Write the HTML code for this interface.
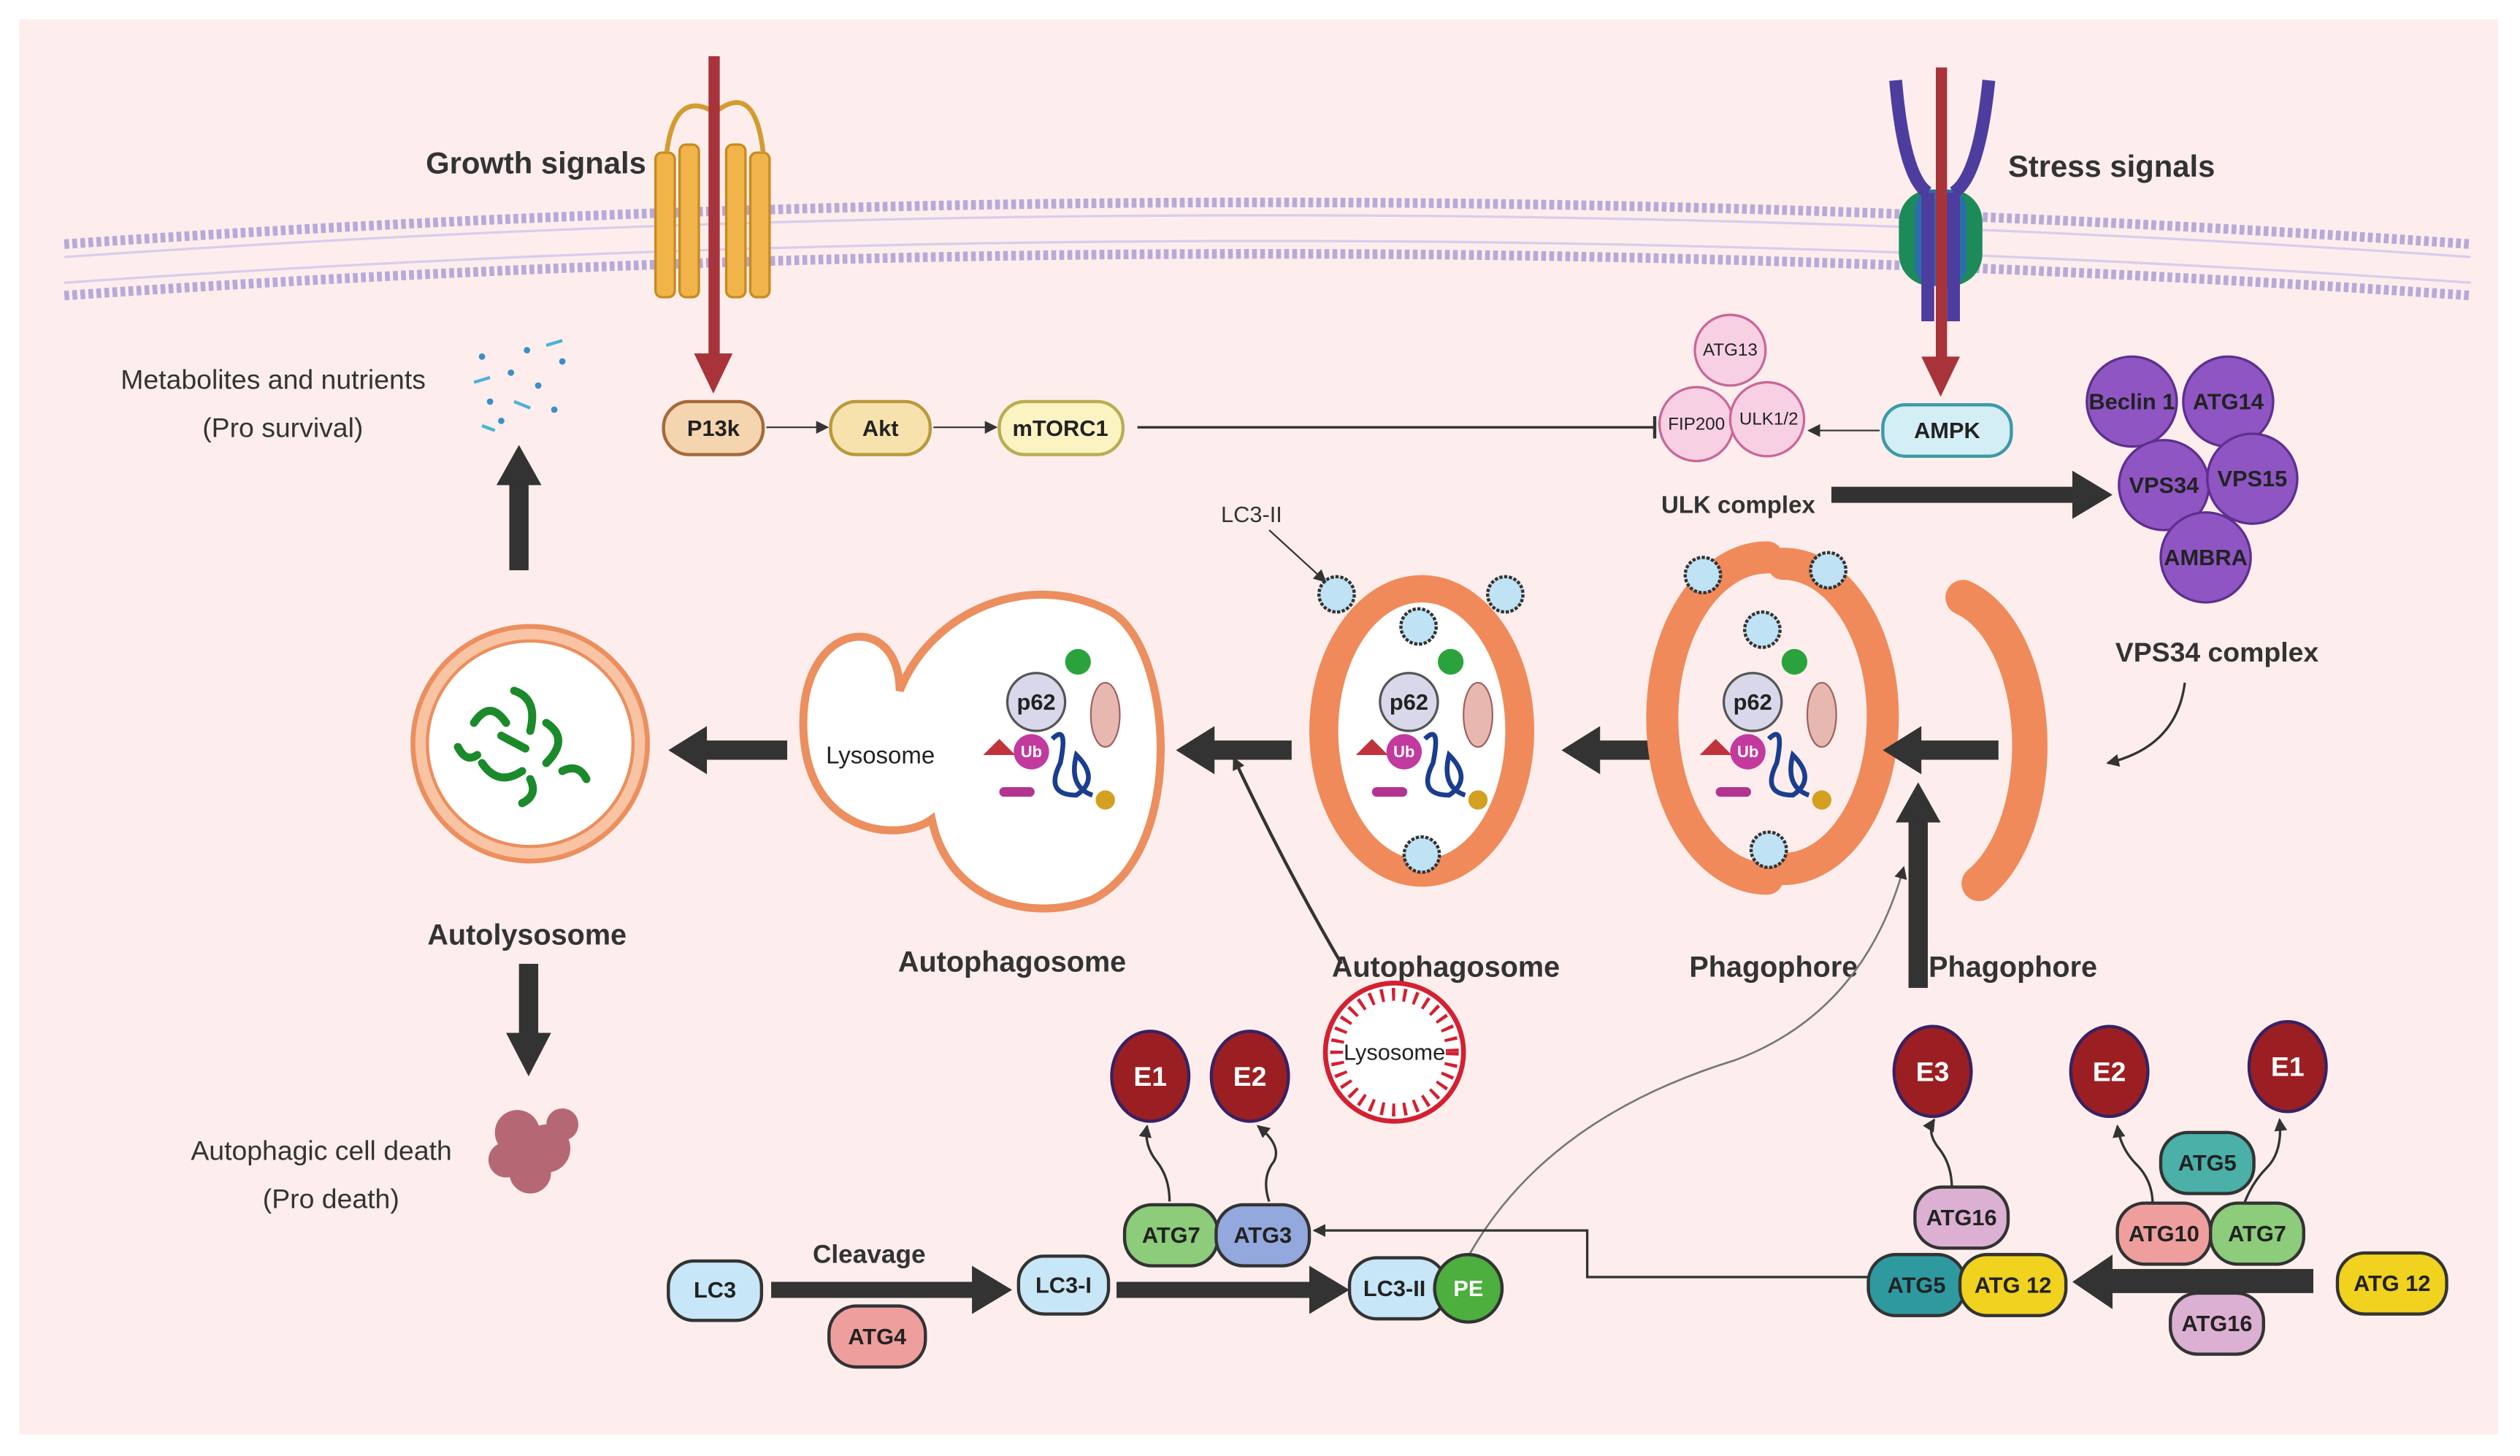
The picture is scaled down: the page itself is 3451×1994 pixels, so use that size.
<!DOCTYPE html>
<html><head><meta charset="utf-8"><style>
html,body{margin:0;padding:0;background:#fff}
svg{display:block}
text{font-family:"Liberation Sans",sans-serif;font-weight:bold;fill:#222}
.n{font-size:14px;text-anchor:middle;dominant-baseline:central;font-weight:bold}
.l{font-size:19px;font-weight:bold;fill:#333}
.m{font-size:17px;font-weight:normal;fill:#333}
</style></head><body>
<svg width="3451" height="1994" viewBox="0 0 1568.6 906.4" xmlns="http://www.w3.org/2000/svg">
<defs>
<marker id="ah" markerWidth="8" markerHeight="8" refX="7" refY="4" orient="auto" markerUnits="userSpaceOnUse"><path d="M0,0 L8,4 L0,8 z" fill="#333"/></marker>
<marker id="tb" markerWidth="4" markerHeight="14" refX="2" refY="7" orient="auto" markerUnits="userSpaceOnUse"><rect x="1" y="0" width="2" height="14" fill="#333"/></marker>
</defs>
<rect x="0" y="0" width="1568.6" height="906.4" fill="#fff"/>
<rect x="12" y="12" width="1543" height="881" fill="#fdeeed"/>
<g fill="none" stroke="#b9a9d9" stroke-width="6" stroke-dasharray="3 2">
<path d="M40,152 Q790,100 1538,152"/>
<path d="M40,184 Q790,132 1538,184"/>
</g>
<g fill="none" stroke="#d9cdec" stroke-width="1.5">
<path d="M40,160 Q790,108 1538,160"/><path d="M40,176 Q790,124 1538,176"/>
</g>
<g fill="#f0b44a" stroke="#c98a20" stroke-width="1.5">
<rect x="408" y="95" width="12" height="90" rx="4"/><rect x="423" y="90" width="12" height="95" rx="4"/>
<rect x="452" y="90" width="12" height="95" rx="4"/><rect x="467" y="95" width="12" height="90" rx="4"/>
<path d="M415,95 Q420,55 445,70 Q470,50 475,95" fill="none" stroke="#d39b30" stroke-width="3"/>
</g>
<rect x="441" y="35" width="7" height="190" fill="#a8333a"/>
<path d="M432,220 L444,245 L456,220 z" fill="#a8333a"/>
<rect x="1182" y="118" width="52" height="60" rx="20" fill="#1d8a5a"/>
<rect x="1192" y="118" width="32" height="60" rx="12" fill="#2a6fa8"/>
<path d="M1180,50 Q1185,110 1200,120 M1238,50 Q1232,110 1216,120" stroke="#4d3d9e" stroke-width="8" fill="none"/>
<path d="M1200,120 L1200,200 M1216,120 L1216,200" stroke="#4d3d9e" stroke-width="8"/>
<rect x="1205" y="42" width="7" height="185" fill="#a8333a"/>
<path d="M1196,222 L1208,247 L1220,222 z" fill="#a8333a"/>
<text x="265" y="108" class="l">Growth signals</text>
<text x="1250" y="110" class="l">Stress signals</text>
<rect x="413" y="250" width="62" height="33" rx="16" fill="#f5d4b0" stroke="#a56a3a" stroke-width="2"/><text x="444" y="266.5" class="n">P13k</text>
<rect x="517" y="250" width="62" height="33" rx="16" fill="#f7e2ad" stroke="#b89a3a" stroke-width="2"/><text x="548" y="266.5" class="n">Akt</text>
<rect x="622" y="250" width="77" height="33" rx="16" fill="#fbf3c2" stroke="#b9ad52" stroke-width="2"/><text x="660" y="266.5" class="n">mTORC1</text>
<line x1="477" y1="266" x2="515" y2="266" stroke="#333" marker-end="url(#ah)"/>
<line x1="581" y1="266" x2="620" y2="266" stroke="#333" marker-end="url(#ah)"/>
<line x1="708" y1="266" x2="1030" y2="266" stroke="#333" stroke-width="1.5" marker-end="url(#tb)"/>
<g fill="#f8d0e3" stroke="#c9679a" stroke-width="1.5">
<circle cx="1077" cy="218" r="22"/><circle cx="1056" cy="264" r="23"/><circle cx="1100" cy="261" r="23"/>
</g>
<text x="1077" y="218" class="n" style="font-size:11px;font-weight:normal">ATG13</text>
<text x="1056" y="264" class="n" style="font-size:11px;font-weight:normal">FIP200</text>
<text x="1101" y="261" class="n" style="font-size:11px;font-weight:normal">ULK1/2</text>
<text x="1082" y="314" class="n" style="font-size:15px;fill:#333">ULK complex</text>
<rect x="1172" y="252" width="80" height="32" rx="14" fill="#d4eef5" stroke="#3b9aa8" stroke-width="2"/><text x="1212" y="268" class="n">AMPK</text>
<line x1="1170" y1="268" x2="1126" y2="268" stroke="#333" marker-end="url(#ah)"/>
<path d="M1140,303 L1290,303 L1290,293 L1315,308 L1290,323 L1290,313 L1140,313 z" fill="#333"/>
<g fill="#8e55c3" stroke="#5e2f8e" stroke-width="1.5">
<circle cx="1327" cy="250" r="28"/><circle cx="1387" cy="250" r="28"/><circle cx="1347" cy="302" r="28"/><circle cx="1402" cy="298" r="28"/><circle cx="1373" cy="347" r="28"/>
</g>
<g style="fill:#222"><text x="1327" y="250" class="n">Beclin 1</text><text x="1387" y="250" class="n">ATG14</text><text x="1347" y="302" class="n">VPS34</text><text x="1402" y="298" class="n">VPS15</text><text x="1373" y="347" class="n">AMBRA</text></g>
<text x="1380" y="406" class="n" style="font-size:17px;fill:#333">VPS34 complex</text>
<path d="M1360,425 Q1355,465 1312,475" fill="none" stroke="#333" stroke-width="1.5" marker-end="url(#ah)"/>
<text x="170" y="242" class="m" text-anchor="middle">Metabolites and nutrients</text>
<text x="176" y="272" class="m" text-anchor="middle">(Pro survival)</text>
<g fill="#3b8fc7"><circle cx="300" cy="222" r="2"/><circle cx="318" cy="232" r="2"/><circle cx="335" cy="240" r="2"/><circle cx="305" cy="250" r="2"/><circle cx="328" cy="218" r="2"/><circle cx="345" cy="255" r="2"/><circle cx="312" cy="262" r="2"/><circle cx="350" cy="225" r="2"/></g>
<g stroke="#4ab3d8" stroke-width="2"><line x1="295" y1="238" x2="305" y2="235"/><line x1="340" y1="215" x2="350" y2="212"/><line x1="320" y1="250" x2="330" y2="254"/><line x1="300" y1="265" x2="308" y2="268"/></g>
<rect x="317" y="300" width="12" height="55" fill="#333"/><path d="M309,302 L323,277 L337,302 z" fill="#333"/>
<circle cx="330" cy="463" r="73" fill="#f9c4a3" stroke="#ec8e5e" stroke-width="3"/>
<circle cx="330" cy="463" r="64" fill="#fff" stroke="#ec8e5e" stroke-width="2"/>
<g stroke="#1b8a2a" stroke-width="5" fill="none" stroke-linecap="round">
<path d="M295,450 q10,-15 20,0"/><path d="M320,430 q15,5 10,25"/><path d="M340,450 q15,10 0,25"/><path d="M300,475 q10,15 25,5"/><path d="M350,480 q10,-5 15,5"/><path d="M312,458 l15,8"/><path d="M285,465 q5,10 12,5"/><path d="M330,485 q5,10 -5,15"/>
</g>
<text x="328" y="582" class="n" style="font-size:18px;fill:#333">Autolysosome</text>
<path d="M416,467 L440,452 L440,461 L490,461 L490,473 L440,473 L440,482 z" fill="#333"/>
<rect x="323" y="600" width="12" height="45" fill="#333"/><path d="M315,643 L329,670 L343,643 z" fill="#333"/>
<g fill="#b56873"><circle cx="322" cy="705" r="14"/><circle cx="340" cy="715" r="15"/><circle cx="330" cy="730" r="13"/><circle cx="315" cy="722" r="11"/><circle cx="350" cy="700" r="10"/></g>
<text x="200" y="722" class="m" text-anchor="middle">Autophagic cell death</text>
<text x="206" y="752" class="m" text-anchor="middle">(Pro death)</text>
<path d="M560,430 C560,380 500,385 500,450 C500,520 560,525 580,510 C590,560 640,575 680,560 C740,530 730,400 690,380 C640,355 580,380 560,430 z" fill="#fff" stroke="#ec8e5e" stroke-width="5"/>
<text x="548" y="470" class="n" style="font-size:15px;font-weight:normal">Lysosome</text>
<g id="cargo">
<circle cx="645" cy="437" r="18" fill="#d8d8ea" stroke="#555" stroke-width="1.5"/><text x="645" y="437" class="n" style="font-size:14px">p62</text>
<circle cx="642" cy="468" r="11" fill="#c23a9d"/><text x="642" y="468" class="n" style="font-size:10px;fill:#fff">Ub</text>
<circle cx="671" cy="412" r="8" fill="#2aa33c"/>
<ellipse cx="688" cy="445" rx="9" ry="20" fill="#e6b8b0" stroke="#a06060"/>
<path d="M612,470 l10,-10 l10,10 z" fill="#c0333c"/>
<rect x="622" y="490" width="22" height="6" rx="3" fill="#b33490"/>
<path d="M655,460 q10,-10 5,15 q-10,20 10,20 q15,-10 0,-25 q-5,20 10,25" fill="none" stroke="#1a3d8f" stroke-width="3"/>
<circle cx="688" cy="498" r="6" fill="#d4a020"/>
</g>
<text x="630" y="599" class="n" style="font-size:18px;fill:#333">Autophagosome</text>
<path d="M732,467 L756,452 L756,461 L804,461 L804,473 L756,473 L756,482 z" fill="#333"/>
<ellipse cx="885" cy="455" rx="70" ry="97" fill="#f08a5a"/>
<ellipse cx="885" cy="455" rx="52" ry="80" fill="#fff"/>
<use href="#cargo" transform="translate(232,0)"/>
<g fill="#bfe3f5" stroke="#333" stroke-width="2" stroke-dasharray="2 1">
<circle cx="832" cy="370" r="11"/><circle cx="937" cy="370" r="11"/><circle cx="883" cy="390" r="11"/><circle cx="885" cy="532" r="11"/>
</g>
<text x="760" y="325" style="font-size:14px;font-weight:normal;fill:#333">LC3-II</text>
<line x1="790" y1="330" x2="825" y2="362" stroke="#333" marker-end="url(#ah)"/>
<text x="900" y="602" class="n" style="font-size:18px;fill:#333">Autophagosome</text>
<path d="M835,600 Q800,540 768,472" fill="none" stroke="#333" stroke-width="2" marker-end="url(#ah)"/>
<circle cx="868" cy="655" r="43" fill="#fff" stroke="#d42030" stroke-width="3"/>
<circle cx="868" cy="655" r="36" fill="none" stroke="#d42030" stroke-width="8" stroke-dasharray="2 5"/>
<text x="868" y="655" class="n" style="font-size:14px;font-weight:normal">Lysosome</text>
<path d="M972,467 L996,452 L996,461 L1044,461 L1044,473 L996,473 L996,482 z" fill="#333"/>
<path d="M1100,355 A62,95 0 1 0 1100,555" fill="none" stroke="#f08a5a" stroke-width="20" stroke-linecap="round" transform="translate(0,-8)"/>
<path d="M1110,355 A62,95 0 0 1 1110,545" fill="none" stroke="#f08a5a" stroke-width="20" stroke-linecap="round" transform="translate(0,-4)"/>
<use href="#cargo" transform="translate(446,0)"/>
<g fill="#bfe3f5" stroke="#333" stroke-width="2" stroke-dasharray="2 1">
<circle cx="1060" cy="358" r="11"/><circle cx="1138" cy="355" r="11"/><circle cx="1097" cy="392" r="11"/><circle cx="1101" cy="529" r="11"/>
</g>
<text x="1104" y="602" class="n" style="font-size:18px;fill:#333">Phagophore</text>
<path d="M1222,372 A55,95 0 0 1 1232,550" fill="none" stroke="#f08a5a" stroke-width="22" stroke-linecap="round"/>
<path d="M1172,467 L1196,452 L1196,461 L1244,461 L1244,473 L1196,473 L1196,482 z" fill="#333"/>
<rect x="1188" y="510" width="12" height="105" fill="#333"/><path d="M1180,512 L1194,487 L1208,512 z" fill="#333"/>
<text x="1253" y="602" class="n" style="font-size:18px;fill:#333">Phagophore</text>
<path d="M905,800 Q950,700 1080,660 Q1160,630 1185,540" fill="none" stroke="#777" stroke-width="1.2" marker-end="url(#ah)"/>
<rect x="416" y="785" width="58" height="37" rx="16" fill="#c7e6f7" stroke="#333" stroke-width="2"/><text x="445" y="803" class="n">LC3</text>
<text x="541" y="781" class="n" style="font-size:16px;fill:#333">Cleavage</text>
<path d="M480,798 L605,798 L605,788 L630,803 L605,818 L605,808 L480,808 z" fill="#333"/>
<rect x="516" y="813" width="60" height="38" rx="17" fill="#ef9e9e" stroke="#333" stroke-width="2"/><text x="546" y="832" class="n">ATG4</text>
<rect x="634" y="782" width="56" height="36" rx="16" fill="#c7e6f7" stroke="#333" stroke-width="2"/><text x="662" y="800" class="n">LC3-I</text>
<path d="M695,798 L815,798 L815,788 L840,803 L815,818 L815,808 L695,808 z" fill="#333"/>
<rect x="840" y="783" width="60" height="38" rx="17" fill="#c7e6f7" stroke="#333" stroke-width="2"/><text x="868" y="802" class="n">LC3-II</text>
<circle cx="914" cy="802" r="21" fill="#4caf3e" stroke="#333" stroke-width="2"/><text x="914" y="802" class="n" style="fill:#fff">PE</text>
<rect x="700" y="750" width="58" height="38" rx="17" fill="#8ccc7a" stroke="#333" stroke-width="2"/><text x="729" y="769" class="n">ATG7</text>
<rect x="757" y="750" width="58" height="38" rx="17" fill="#93a8dc" stroke="#333" stroke-width="2"/><text x="786" y="769" class="n">ATG3</text>
<g fill="#9b1f22" stroke="#3a2160" stroke-width="2">
<ellipse cx="716" cy="670" rx="24" ry="28"/><ellipse cx="778" cy="670" rx="24" ry="28"/>
<ellipse cx="1203" cy="667" rx="24" ry="28"/><ellipse cx="1313" cy="667" rx="24" ry="28"/><ellipse cx="1424" cy="664" rx="24" ry="28"/>
</g>
<text x="716" y="670" class="n" style="fill:#fff;font-size:17px">E1</text><text x="778" y="670" class="n" style="fill:#fff;font-size:17px">E2</text>
<text x="1203" y="667" class="n" style="fill:#fff;font-size:17px">E3</text><text x="1313" y="667" class="n" style="fill:#fff;font-size:17px">E2</text><text x="1424" y="664" class="n" style="fill:#fff;font-size:17px">E1</text>
<g fill="none" stroke="#333" stroke-width="1.5" marker-end="url(#ah)">
<path d="M728,748 q0,-15 -8,-25 q-8,-10 -6,-22"/><path d="M790,748 q-5,-15 3,-25 q5,-10 -10,-22"/>
<path d="M1215,740 q0,-15 -8,-25 q-8,-10 -3,-18"/><path d="M1340,750 q0,-15 -10,-25 q-10,-10 -12,-24"/><path d="M1396,752 q5,-15 15,-25 q10,-10 8,-30"/>
</g>
<path d="M1210,795 L988,795 L988,766 L818,766" fill="none" stroke="#333" stroke-width="1.5" marker-end="url(#ah)"/>
<rect x="1192" y="739" width="58" height="38" rx="17" fill="#dcb0d3" stroke="#333" stroke-width="2"/><text x="1221" y="758" class="n">ATG16</text>
<rect x="1163" y="781" width="60" height="38" rx="17" fill="#2e9aa0" stroke="#333" stroke-width="2"/><text x="1193" y="800" class="n">ATG5</text>
<rect x="1220" y="781" width="66" height="38" rx="17" fill="#f1d21e" stroke="#333" stroke-width="2"/><text x="1253" y="800" class="n">ATG 12</text>
<path d="M1315,790 L1440,790 L1440,805 L1315,805 L1315,815 L1290,798 L1315,781 z" fill="#333"/>
<rect x="1345" y="705" width="58" height="38" rx="17" fill="#4ab0a8" stroke="#333" stroke-width="2"/><text x="1374" y="724" class="n">ATG5</text>
<rect x="1318" y="749" width="58" height="38" rx="17" fill="#ef9e9e" stroke="#333" stroke-width="2"/><text x="1347" y="768" class="n">ATG10</text>
<rect x="1376" y="749" width="58" height="38" rx="17" fill="#8ccc7a" stroke="#333" stroke-width="2"/><text x="1405" y="768" class="n">ATG7</text>
<rect x="1351" y="805" width="58" height="38" rx="17" fill="#dcb0d3" stroke="#333" stroke-width="2"/><text x="1380" y="824" class="n">ATG16</text>
<rect x="1455" y="780" width="68" height="38" rx="17" fill="#f1d21e" stroke="#333" stroke-width="2"/><text x="1489" y="799" class="n">ATG 12</text>
</svg>
</body></html>
